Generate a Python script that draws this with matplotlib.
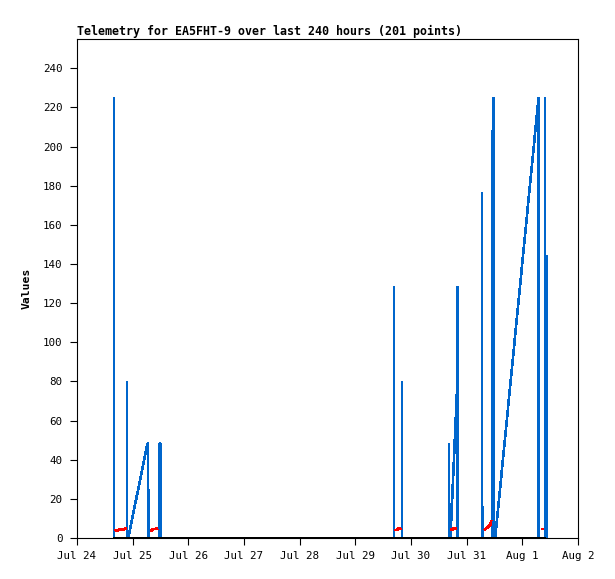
import numpy as np
import matplotlib
matplotlib.use("Agg")
import matplotlib.pyplot as plt
import matplotlib.dates as mdates
from matplotlib.ticker import FuncFormatter

# ---- data (hours since Jul 24 00:00) ----
start = np.datetime64("2023-07-24T00:00")

blue_hours = [15.6, 16.0, 16.0, 16.0,
              21.5, 21.5, 21.5,
              22.1, 30.4, 30.6, 30.6, 30.75, 30.75,
              35.55, 35.55, 36.05, 36.05,
              136.6, 136.6, 136.6,
              140.1, 140.1, 140.1,
              160.3, 160.3, 160.3, 160.85, 160.85, 160.85,
              161.0, 164.0, 164.0, 164.0,
              174.6, 174.6, 174.6, 174.95, 174.95, 174.95,
              179.1, 179.1, 179.1, 179.55, 179.55, 179.55,
              180.3, 199.0, 199.0,
              201.8, 201.8, 201.8, 202.3, 202.3, 202.3]
blue_values = [0, 0, 225, 0,
               0, 80, 0,
               0, 48.3, 48.3, 24.5, 24.5, 0,
               0, 48.3, 48.3, 0,
               0, 128.3, 0,
               0, 80.1, 0,
               0, 48.5, 0, 0, 17.4, 0,
               0, 80, 128.3, 0,
               0, 176.8, 0, 0, 16.3, 0,
               0, 208, 0, 0, 225, 0,
               0, 225, 0,
               0, 225, 0, 0, 144.5, 0]

# red channel: short segments (NaN = gap)
red_hours = [16.4, 17.7, 17.7, 20.3, 20.3, 21.2, np.nan,
             31.6, 32.5, 32.5, 34.9, np.nan,
             137.1, 138.3, 138.3, 139.7, np.nan,
             160.9, 162.0, 162.0, 163.5, np.nan,
             175.6, 177.1, 178.2, 178.6, np.nan,
             200.2, 201.3]
red_values = [3.7, 3.9, 4.2, 4.3, 4.7, 4.8, np.nan,
              3.8, 4.0, 4.6, 4.8, np.nan,
              4.0, 4.1, 4.7, 4.8, np.nan,
              4.2, 4.3, 4.7, 4.8, np.nan,
              4.2, 5.5, 6.8, 9.0, np.nan,
              4.5, 4.6]

zero_hours = [15.6, 202.4]
zero_values = [0, 0]

y_ticks = list(range(0, 241, 20))
title = "Telemetry for EA5FHT-9 over last 240 hours (201 points)"
ylabel = "Values"


def to_dates(hours):
    out = []
    for h in hours:
        if np.isnan(h):
            out.append(np.nan)
        else:
            out.append(mdates.date2num(start + np.timedelta64(int(round(h * 60)), "m")))
    return np.array(out, dtype=float)


plt.rcParams["font.family"] = ["DejaVu Sans Mono"]

fig = plt.figure(figsize=(6.15, 5.79), dpi=100)
ax = fig.add_axes([77 / 615, 41 / 579, 501 / 615, 499 / 579])

line_kw = dict(antialiased=False, solid_joinstyle="bevel", solid_capstyle="butt")
ax.plot(to_dates(blue_hours), blue_values, color="#0066CC", lw=1.15,
        zorder=2, **line_kw)
ax.plot(to_dates(red_hours), red_values, color="#FF0000", lw=1.15,
        zorder=3, **line_kw)
ax.plot(to_dates(zero_hours), zero_values, color="black", lw=1.1,
        zorder=4, clip_on=False, **line_kw)

x0 = mdates.date2num(start)
x1 = mdates.date2num(start + np.timedelta64(9, "D"))
ax.set_xlim(x0, x1)
ax.set_ylim(0, 255)

ax.xaxis.set_major_locator(mdates.DayLocator())
ax.xaxis.set_major_formatter(FuncFormatter(
    lambda v, p: (lambda d: f"{d.strftime('%b')} {d.day}")(mdates.num2date(v))))
ax.set_yticks(y_ticks)

for s in ax.spines.values():
    s.set_linewidth(0.8)
    s.set_color("black")

ax.tick_params(axis="both", direction="out", length=5, width=0.8,
               labelsize=7.8, colors="black")
ax.tick_params(axis="y", pad=5.5)
ax.tick_params(axis="x", pad=4.5)

ax.set_title(title, loc="left", fontsize=8.4, fontweight="bold", pad=3)
ax.set_ylabel(ylabel, fontsize=8.2, fontweight="bold")
ax.yaxis.set_label_coords(-0.09, 0.5)

fig.savefig("out.png", dpi=100)
